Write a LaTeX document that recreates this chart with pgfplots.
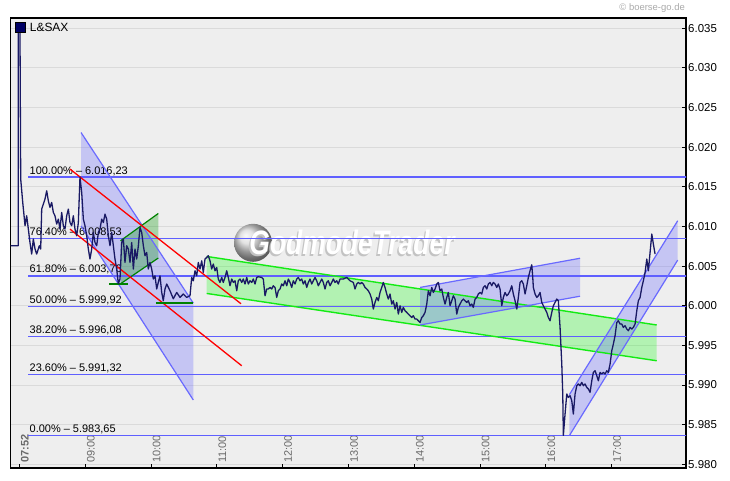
\documentclass[border=0pt]{standalone}
\usepackage{fontspec}
\setmainfont{Liberation Sans}
\usepackage{pgfplots}
\pgfplotsset{compat=1.18}
\usetikzlibrary{shadings}
\definecolor{series}{RGB}{25,25,100}
\definecolor{fibblue}{RGB}{95,95,255}
\definecolor{chanblue}{RGB}{105,105,255}
\definecolor{gbright}{RGB}{20,235,20}
\definecolor{gdark}{RGB}{0,130,0}
\definecolor{bg}{RGB}{238,238,238}
\definecolor{gridc}{RGB}{218,218,218}
\definecolor{xlab}{RGB}{105,105,105}
\definecolor{copyc}{RGB}{170,170,170}
\definecolor{navysq}{RGB}{0,0,100}
\definecolor{wmgray}{RGB}{195,195,195}
\begin{document}
\begin{tikzpicture}
\useasboundingbox (-10.7bp,-13bp) rectangle (719.3bp,468bp);
\begin{axis}[
  at={(0,0)}, anchor=south west,
  scale only axis, width=675.3bp, height=450bp,
  xmin=7.866, xmax=18.129, ymin=5979.53, ymax=6036.30,
  axis background/.style={fill=bg},
  axis line style={line width=1.2bp, black},
  tick align=inside,
  xtick pos=bottom, ytick pos=right,
  yticklabel pos=right,
  major tick length=4bp,
  tick style={black, line width=0.9bp},
  ymajorgrids, grid style={gridc, line width=0.9bp},
  ytick={5980,5985,5990,5995,6000,6005,6010,6015,6020,6025,6030,6035},
  yticklabels={5.980,5.985,5.990,5.995,6.000,6.005,6.010,6.015,6.020,6.025,6.030,6.035},
  yticklabel style={anchor=west, inner sep=0pt, xshift=2bp, font=\fontsize{11.5}{13}\selectfont},
  xtick={7.997,9,10,11,12,13,14,15,16,17},
  xticklabels={\textbf{07:52},09:00,10:00,11:00,12:00,13:00,14:00,15:00,16:00,17:00},
  xticklabel style={xshift=5.5bp, yshift=5bp, rotate=90, anchor=west, inner sep=0pt, text=xlab, font=\fontsize{11}{13}\selectfont},
]
% watermark
\shade[ball color=gray!30] (axis cs:11.549,6007.94) circle[radius=19bp];
\node[inner sep=0pt, xscale=0.78, text=wmgray, font=\fontsize{34}{34}\selectfont\bfseries\itshape] at ([xshift=-1.5bp,yshift=-1.5bp]axis cs:13.053,6007.94) {GodmodeTrader};
\node[inner sep=0pt, xscale=0.78, text=white, font=\fontsize{34}{34}\selectfont\bfseries\itshape] at (axis cs:13.053,6007.94) {GodmodeTrader};

% channel fills
\addplot[draw=none, fill=chanblue, fill opacity=0.3] coordinates {(8.935,6021.85) (10.641,6000.33) (10.641,5988.11) (8.935,6010.06)};
\addplot[draw=none, fill={rgb,255:red,0;green,150;blue,0}, fill opacity=0.3] coordinates {(9.535,6008.20) (10.109,6011.64) (10.109,6006.02) (9.535,6002.77)};
\addplot[draw=none, fill={rgb,255:red,0;green,255;blue,0}, fill opacity=0.25] coordinates {(10.845,6006.22) (17.684,5997.57) (17.684,5993.06) (10.845,6001.55)};
\addplot[draw=none, fill=chanblue, fill opacity=0.3] coordinates {(14.087,6002.31) (16.518,6005.99) (16.518,6001.20) (14.087,5997.57)};
\addplot[draw=none, fill=chanblue, fill opacity=0.3] coordinates {(16.356,5988.78) (18.003,6010.72) (18.003,6005.76) (16.356,5983.61)};

% fibonacci lines
\addplot[fibblue, line width=1.2bp] coordinates {(8.129,6016.23) (18.2,6016.23)};
\addplot[fibblue, line width=1.2bp] coordinates {(8.129,6008.53) (18.2,6008.53)};
\addplot[fibblue, line width=1.2bp] coordinates {(8.129,6003.76) (18.2,6003.76)};
\addplot[fibblue, line width=1.2bp] coordinates {(8.129,5999.92) (18.2,5999.92)};
\addplot[fibblue, line width=1.2bp] coordinates {(8.129,5996.08) (18.2,5996.08)};
\addplot[fibblue, line width=1.2bp] coordinates {(8.129,5991.32) (18.2,5991.32)};
\addplot[fibblue, line width=1.2bp] coordinates {(8.129,5983.65) (18.2,5983.65)};

% fibonacci labels
\begin{scope}[every node/.style={anchor=base west, inner sep=0pt, yshift=3bp, font=\fontsize{11}{13}\selectfont}]
\node at (axis cs:8.152,6016.23) {100.00\% -- 6.016,23};
\node at (axis cs:8.152,6008.53) {76.40\% -- 6.008,53};
\node at (axis cs:8.152,6003.76) {61.80\% -- 6.003,76};
\node at (axis cs:8.152,5999.92) {50.00\% -- 5.999,92};
\node at (axis cs:8.152,5996.08) {38.20\% -- 5.996,08};
\node at (axis cs:8.152,5991.32) {23.60\% -- 5.991,32};
\node at (axis cs:8.152,5983.65) {0.00\% -- 5.983,65};
\end{scope}

% channel edges
\addplot[chanblue, line width=1.2bp] coordinates {(8.935,6021.85) (10.641,6000.33)};
\addplot[chanblue, line width=1.2bp] coordinates {(8.935,6010.06) (10.641,5988.11)};
\addplot[gdark, line width=1.2bp] coordinates {(9.535,6008.20) (10.109,6011.64)};
\addplot[gdark, line width=1.2bp] coordinates {(9.535,6002.77) (10.109,6006.02)};
\addplot[gbright, line width=1.4bp] coordinates {(10.845,6006.22) (17.684,5997.57)};
\addplot[gbright, line width=1.4bp] coordinates {(10.845,6001.55) (17.684,5993.06)};
\addplot[chanblue, line width=1.2bp] coordinates {(14.087,6002.31) (16.518,6005.99)};
\addplot[chanblue, line width=1.2bp] coordinates {(14.087,5997.57) (16.518,6001.20)};
\addplot[chanblue, line width=1.2bp] coordinates {(16.356,5988.78) (18.003,6010.72)};
\addplot[chanblue, line width=1.2bp] coordinates {(16.356,5983.61) (18.003,6005.76)};
\addplot[red, line width=1.3bp] coordinates {(8.767,6017.24) (11.366,6000.25)};
\addplot[red, line width=1.3bp] coordinates {(8.767,6009.67) (11.377,5992.43)};
\addplot[gdark, line width=1.4bp] coordinates {(9.360,6002.74) (9.653,6002.74)};
\addplot[gdark, line width=1.4bp] coordinates {(10.074,6000.34) (10.632,6000.34)};

% price series
\addplot[series, line width=1.3bp, line join=round] coordinates {
(7.866,6007.57) (7.982,6007.57) (7.982,6034.68) (8.007,6034.68) (8.018,6015.98) (8.049,6013.03) (8.084,6010.09) (8.109,6011.35) (8.134,6009.67) (8.159,6007.98)
(8.185,6006.52) (8.210,6008.41) (8.236,6007.15) (8.261,6006.52) (8.301,6007.57) (8.322,6007.15) (8.337,6012.19) (8.362,6012.82) (8.387,6013.45) (8.413,6014.50)
(8.438,6013.24) (8.463,6012.40) (8.489,6013.03) (8.514,6011.77) (8.539,6011.35) (8.565,6010.30) (8.590,6010.93) (8.615,6009.67) (8.641,6011.77) (8.666,6010.09)
(8.691,6009.67) (8.717,6011.35) (8.742,6012.19) (8.767,6010.50) (8.793,6010.09) (8.818,6011.35) (8.843,6009.67) (8.869,6008.83) (8.894,6010.50) (8.919,6016.23)
(8.945,6014.29) (8.970,6010.93) (8.995,6010.09) (9.021,6008.83) (9.046,6007.15) (9.071,6005.89) (9.097,6007.15) (9.122,6009.24) (9.147,6007.98) (9.173,6007.57)
(9.198,6009.24) (9.223,6009.67) (9.249,6010.93) (9.274,6010.50) (9.299,6011.56) (9.325,6010.93) (9.350,6008.83) (9.375,6007.57) (9.401,6009.24) (9.426,6007.57)
(9.451,6005.89) (9.477,6004.63) (9.502,6002.77) (9.527,6003.37) (9.553,6007.98) (9.578,6008.41) (9.603,6005.46) (9.629,6007.57) (9.654,6007.15) (9.679,6005.46)
(9.705,6007.98) (9.730,6004.63) (9.755,6007.15) (9.781,6005.89) (9.806,6007.57) (9.831,6009.87) (9.857,6009.24) (9.882,6007.57) (9.907,6006.31) (9.933,6006.72)
(9.957,6004.63) (9.983,6005.46) (10.009,6004.63) (10.033,6003.37) (10.059,6003.78) (10.085,6002.11) (10.109,6002.94) (10.135,6003.78) (10.161,6001.68) (10.185,6000.63)
(10.211,6002.11) (10.237,6002.74) (10.287,6001.89) (10.337,6000.88) (10.389,6001.68) (10.439,6001.05) (10.489,6001.48) (10.541,6001.05) (10.591,6001.26) (10.617,6003.57)
(10.641,6003.15) (10.667,6004.41) (10.693,6003.78) (10.717,6005.46) (10.743,6004.63) (10.769,6005.67) (10.793,6004.20) (10.819,6005.89) (10.845,6006.09) (10.869,6006.31)
(10.895,6005.67) (10.921,6004.63) (10.945,6005.26) (10.971,6004.41) (10.997,6004.83) (11.021,6003.37) (11.047,6002.94) (11.073,6003.57) (11.097,6002.94) (11.123,6003.57)
(11.149,6004.41) (11.173,6003.57) (11.199,6002.52) (11.225,6003.37) (11.249,6002.94) (11.275,6003.15) (11.301,6001.89) (11.325,6003.15) (11.351,6003.37) (11.377,6002.94)
(11.401,6003.37) (11.427,6002.74) (11.453,6003.57) (11.477,6002.74) (11.503,6003.15) (11.529,6002.94) (11.553,6003.37) (11.579,6002.74) (11.605,6003.57) (11.629,6003.66)
(11.681,6003.57) (11.705,6003.37) (11.731,6001.26) (11.757,6002.11) (11.781,6002.11) (11.807,6002.31) (11.833,6002.11) (11.857,6002.52) (11.883,6002.31) (11.909,6001.05)
(11.933,6001.89) (11.959,6002.11) (11.985,6002.74) (12.009,6002.52) (12.035,6003.15) (12.061,6002.52) (12.085,6003.37) (12.111,6002.94) (12.137,6002.31) (12.161,6003.15)
(12.187,6002.74) (12.213,6003.37) (12.237,6003.57) (12.263,6003.15) (12.289,6003.37) (12.313,6002.74) (12.339,6003.15) (12.365,6002.31) (12.389,6002.94) (12.415,6003.37)
(12.441,6002.74) (12.465,6003.15) (12.491,6003.57) (12.517,6003.15) (12.541,6002.52) (12.567,6002.94) (12.593,6003.37) (12.617,6002.94) (12.643,6002.11) (12.669,6002.94)
(12.693,6003.15) (12.719,6002.52) (12.745,6002.94) (12.769,6003.37) (12.795,6002.94) (12.821,6003.15) (12.845,6002.74) (12.871,6003.37) (12.921,6003.37) (12.973,6003.57)
(13.023,6003.15) (13.073,6002.94) (13.099,6002.11) (13.125,6002.74) (13.149,6002.94) (13.175,6002.74) (13.201,6002.94) (13.225,6002.74) (13.251,6002.31) (13.277,6002.11)
(13.301,6001.89) (13.327,6001.48) (13.353,6000.84) (13.377,5999.58) (13.403,6000.42) (13.429,6001.05) (13.453,6000.63) (13.479,6001.68) (13.505,6002.31) (13.529,6002.94)
(13.555,6002.31) (13.581,6001.48) (13.605,6000.84) (13.631,6001.48) (13.657,6000.21) (13.681,6000.63) (13.707,5999.58) (13.733,6000.42) (13.757,5998.95) (13.783,6000.00)
(13.809,5999.16) (13.833,5999.79) (13.859,5999.37) (13.885,5999.16) (13.909,5998.95) (13.935,5998.74) (13.961,5998.52) (13.985,5998.74) (14.011,5998.32) (14.037,5998.32)
(14.061,5998.11) (14.087,5997.89) (14.113,5998.52) (14.137,5998.74) (14.163,5999.16) (14.189,6000.21) (14.213,6001.89) (14.239,6001.26) (14.265,6002.31) (14.289,6001.68)
(14.315,6002.11) (14.341,6002.74) (14.365,6002.94) (14.391,6001.89) (14.417,6002.11) (14.441,6001.05) (14.467,6000.21) (14.493,6001.05) (14.517,6001.68) (14.543,6000.00)
(14.569,6000.63) (14.593,6001.26) (14.619,6000.84) (14.645,5998.95) (14.669,5999.79) (14.695,6000.21) (14.721,6000.63) (14.745,6000.84) (14.771,6000.63) (14.797,6000.42)
(14.821,6000.63) (14.847,6000.00) (14.873,6000.21) (14.897,5999.79) (14.923,6000.84) (14.949,6001.05) (14.973,6001.48) (14.999,6001.68) (15.025,6001.48) (15.049,6002.31)
(15.075,6002.52) (15.101,6002.11) (15.125,6002.74) (15.151,6002.94) (15.177,6002.52) (15.201,6002.94) (15.227,6002.74) (15.253,6002.31) (15.277,6002.74) (15.303,6002.11)
(15.329,6000.00) (15.353,6001.05) (15.379,6001.68) (15.405,6001.26) (15.429,6001.48) (15.455,6001.89) (15.481,6002.52) (15.505,6001.48) (15.531,6000.63) (15.557,5999.58)
(15.581,6001.05) (15.607,6002.94) (15.633,6003.15) (15.657,6002.74) (15.683,6001.48) (15.709,6002.52) (15.733,6003.57) (15.759,6004.41) (15.785,6005.17) (15.800,6003.57)
(15.809,6002.31) (15.835,6001.48) (15.861,6001.05) (15.885,6001.26) (15.911,6001.68) (15.937,6000.42) (15.961,6000.00) (15.987,5999.58) (16.013,5999.16) (16.037,5998.52)
(16.063,5998.11) (16.089,5999.16) (16.113,6000.00) (16.139,6000.42) (16.165,6000.84) (16.189,6000.63) (16.215,5997.26) (16.241,5992.65) (16.256,5988.87) (16.265,5983.65)
(16.291,5986.34) (16.317,5988.87) (16.341,5988.44) (16.367,5988.65) (16.393,5988.02) (16.417,5986.34) (16.443,5988.87) (16.469,5989.91) (16.493,5990.13) (16.519,5989.91)
(16.545,5990.33) (16.569,5989.91) (16.595,5990.13) (16.621,5989.70) (16.645,5989.50) (16.671,5989.07) (16.697,5990.54) (16.721,5991.59) (16.747,5991.80) (16.773,5991.17)
(16.797,5990.54) (16.823,5991.59) (16.849,5991.39) (16.873,5991.59) (16.899,5991.39) (16.925,5991.80) (16.949,5991.59) (16.975,5992.65) (17.001,5994.33) (17.025,5995.17)
(17.051,5996.22) (17.077,5997.89) (17.101,5998.11) (17.127,5997.69) (17.153,5997.69) (17.177,5997.26) (17.203,5997.48) (17.229,5997.06) (17.253,5996.85) (17.279,5997.26)
(17.305,5997.06) (17.329,5997.26) (17.355,5997.69) (17.381,5999.37) (17.405,6000.63) (17.431,6001.05) (17.457,6002.31) (17.481,6003.15) (17.507,6004.20) (17.533,6005.89)
(17.557,6004.41) (17.583,6006.72) (17.609,6009.04) (17.633,6007.78) (17.659,6006.52)
};
\end{axis}
% title and copyright
\fill[navysq, draw=black, line width=0.6bp] (4.8bp,436bp) rectangle (14.3bp,445.5bp);
\node[anchor=west, inner sep=0pt, font=\fontsize{12}{14}\selectfont] at (19bp,441bp) {L\&SAX};
\node[anchor=east, inner sep=0pt, text=copyc, font=\fontsize{9.5}{11}\selectfont] at (674.3bp,460bp) {\textcopyright\ boerse-go.de};
\end{tikzpicture}
\end{document}
